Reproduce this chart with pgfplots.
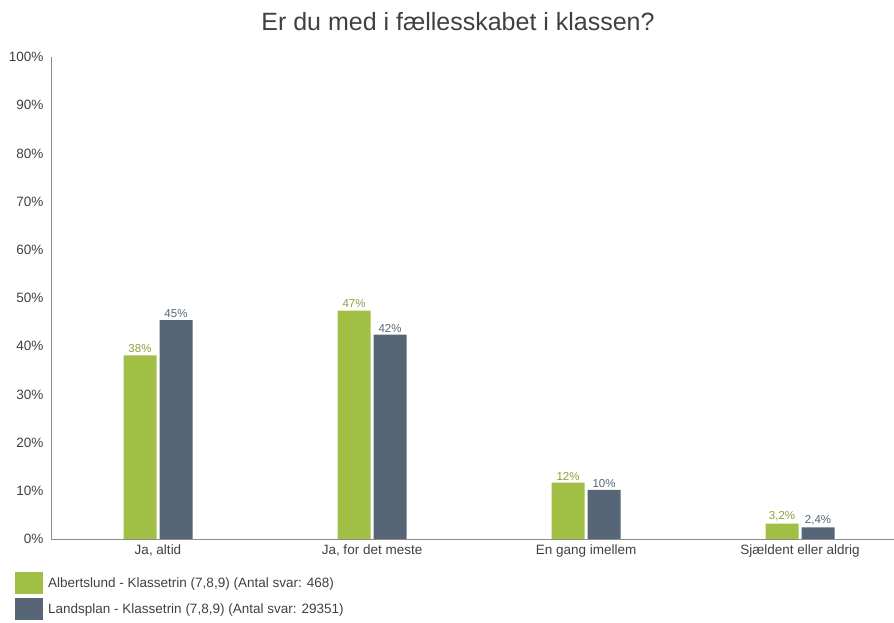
\documentclass[border=0pt]{standalone}
\usepackage{pgfplots}
\pgfplotsset{compat=1.18}
\usepackage{fontspec}
\setmainfont{Liberation Sans}
\definecolor{cgreen}{HTML}{A2BF45}
\definecolor{cdark}{HTML}{566676}
\definecolor{ctext}{HTML}{404040}
\definecolor{caxis}{HTML}{8C8C8C}
\begin{document}
\begin{tikzpicture}[x=1pt,y=1pt]
\useasboundingbox (0,0) rectangle (894,623);
\node[font=\fontsize{25}{28}\selectfont, text=ctext] at (458,601) {Er du med i fællesskabet i klassen?};
\begin{axis}[
  at={(51pt,84pt)}, anchor=south west,
  scale only axis, width=843pt, height=482pt,
  xmin=-0.5, xmax=3.439, ymin=0, ymax=100,
  ybar=3pt, bar width=33pt,
  axis x line*=bottom, axis y line*=left,
  axis line style={caxis,-},
  xtick={0,1,2,3},
  xticklabels={{Ja, altid},{Ja, for det meste},{En gang imellem},{Sjældent eller aldrig}},
  ytick={0,10,...,100},
  yticklabels={0\%,10\%,20\%,30\%,40\%,50\%,60\%,70\%,80\%,90\%,100\%},
  major tick length=0pt,
  tick label style={font=\fontsize{13.5}{15}\selectfont, text=ctext},
  yticklabel style={xshift=-4pt},
  xticklabel style={yshift=-2pt},
  nodes near coords,
  point meta=explicit symbolic,
  every node near coord/.append style={font=\fontsize{11.5}{13}\selectfont, yshift=-1pt},
  legend style={at={(-0.0427,-0.0685)}, anchor=north west, draw=none, fill=none,
    font=\fontsize{13.5}{15}\selectfont, text=ctext, row sep=4pt,
    cells={anchor=west}, inner sep=0pt},
  legend cell align=left,
]
\addplot[fill=cgreen, draw=none, every node near coord/.append style={text=cgreen!85!black},
  legend image code/.code={\fill[cgreen] (0pt,-11pt) rectangle (28pt,11pt); \path (0pt,0pt) -- (31pt,0pt);}]
  table[x=x, y=y, meta=lab] {
x y lab
0 38.1 38\%
1 47.4 47\%
2 11.7 12\%
3 3.2 3,2\%
};
\addplot[fill=cdark, draw=none, every node near coord/.append style={text=cdark},
  legend image code/.code={\fill[cdark] (0pt,-11pt) rectangle (28pt,11pt); \path (0pt,0pt) -- (31pt,0pt);}]
  table[x=x, y=y, meta=lab] {
x y lab
0 45.4 45\%
1 42.4 42\%
2 10.2 10\%
3 2.4 2,4\%
};
\legend{{Albertslund - Klassetrin (7,8,9) (Antal svar: 468)},{Landsplan - Klassetrin (7,8,9) (Antal svar: 29351)}}
\end{axis}
\end{tikzpicture}
\end{document}
